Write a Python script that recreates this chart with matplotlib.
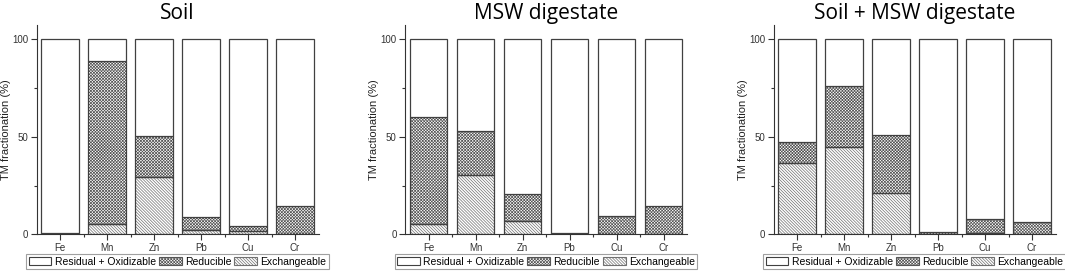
import matplotlib.pyplot as plt
import matplotlib.patches as mpatches
import numpy as np

plt.rcParams["font.family"] = ["Liberation Sans", "DejaVu Sans"]
plt.rcParams["hatch.linewidth"] = 0.5

metals = ["Fe", "Mn", "Zn", "Pb", "Cu", "Cr"]
titles = ["Soil", "MSW digestate", "Soil + MSW digestate"]

# fractions (%)
soil_exch = [0.2, 5.5, 29.6, 2.2, 1.5, 0.3]
soil_red = [0.5, 83.4, 20.7, 6.7, 2.6, 14.2]
msw_exch = [5.1, 30.3, 6.7, 0.2, 0.3, 0.3]
msw_red = [55.2, 22.7, 14.0, 0.7, 8.9, 14.2]
mix_exch = [36.4, 45.0, 21.0, 0.3, 0.7, 0.4]
mix_red = [10.8, 31.1, 29.8, 1.1, 7.2, 5.9]

exch_all = [soil_exch, msw_exch, mix_exch]
red_all = [soil_red, msw_red, mix_red]

edge = "#404040"
red_col = "#555555"
exch_col = "#707070"
red_hatch = "x" * 11
exch_hatch = "\\" * 11

fig = plt.figure(figsize=(10.65, 2.71), dpi=100)
lefts = [0.0343, 0.3803, 0.7263]

for i in range(3):
    ax = fig.add_axes([lefts[i], 0.1354, 0.2648, 0.7723])
    x = np.arange(len(metals))
    exch = np.array(exch_all[i])
    red = np.array(red_all[i])
    resid = 100 - exch - red
    # hatch fills (hatch takes the edge colour), then dark outlines on top
    ax.bar(x, exch, 0.8, color="white", edgecolor=exch_col, hatch=exch_hatch, linewidth=0)
    ax.bar(x, red, 0.8, bottom=exch, color="white", edgecolor=red_col, hatch=red_hatch, linewidth=0)
    ax.bar(x, exch, 0.8, fill=False, edgecolor=edge, linewidth=0.9)
    ax.bar(x, red, 0.8, bottom=exch, fill=False, edgecolor=edge, linewidth=0.9)
    ax.bar(x, resid, 0.8, bottom=exch + red, color="white", edgecolor=edge, linewidth=0.9)

    ax.set_xlim(-0.5, 5.5)
    ax.set_ylim(0, 107.3)
    ax.set_xticks(x)
    ax.set_xticklabels(metals, fontsize=7, color="#333333")
    ax.set_xticks(x[:-1] + 0.5, minor=True)
    ax.set_yticks([0, 50, 100])
    ax.set_yticklabels(["0", "50", "100"], fontsize=7, color="#333333")
    ax.set_yticks([25, 75], minor=True)
    ax.tick_params(direction="out", length=4, width=0.8, color="#333333", pad=2)
    ax.tick_params(which="minor", direction="out", length=2, width=0.8, color="#333333")
    ax.spines["top"].set_visible(False)
    ax.spines["right"].set_visible(False)
    ax.spines["left"].set_color("#333333")
    ax.spines["bottom"].set_color("#333333")
    ax.set_ylabel("TM fractionation (%)", fontsize=8, labelpad=1, color="#222222")
    ax.set_title(titles[i], fontsize=15, family=["Open Sans", "DejaVu Sans"], pad=4)

    handles = [
        mpatches.Patch(facecolor="white", edgecolor=edge, linewidth=0.8, label="Residual + Oxidizable"),
        mpatches.Patch(facecolor="white", edgecolor=red_col, hatch=red_hatch, linewidth=0.8, label="Reducible"),
        mpatches.Patch(facecolor="white", edgecolor=exch_col, hatch=exch_hatch, linewidth=0.8, label="Exchangeable"),
    ]
    leg = ax.legend(handles=handles, loc="center", bbox_to_anchor=(0.5, -0.13), ncol=3,
                    fontsize=7.5, frameon=True, fancybox=False, edgecolor="#888888",
                    handlelength=2.2, handleheight=0.9, handletextpad=0.3,
                    columnspacing=0.3, borderpad=0.2, borderaxespad=0)
    leg.get_frame().set_linewidth(0.8)

fig.savefig("out.png", dpi=100)
